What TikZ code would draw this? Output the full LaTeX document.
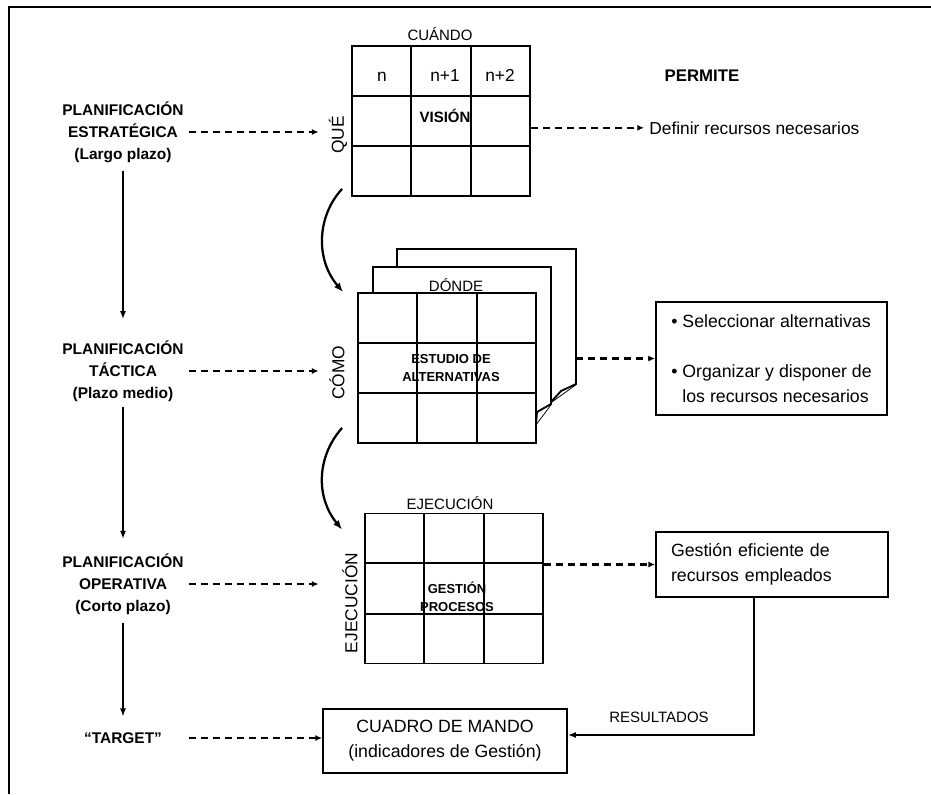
\documentclass[tikz,border=0pt]{standalone}
\usepackage{fontspec}
\setmainfont{Liberation Sans}
\usetikzlibrary{arrows.meta, calc}

% inner rules of a 3x3 planning matrix drawn as a node
\newcommand\cellrules[1]{%
  \foreach \k in {1,2}{%
    \draw ($(#1.north west)!\k/3!(#1.north east)$) -- ($(#1.south west)!\k/3!(#1.south east)$);
    \draw ($(#1.north west)!\k/3!(#1.south west)$) -- ($(#1.north east)!\k/3!(#1.south east)$);
  }}

\tikzset{
  every picture/.style={line width=1.4pt},
  lbl/.style={font=\bfseries\fontsize{11.6}{16.5}\selectfont, align=center},
  txt/.style={font=\fontsize{13}{15.6}\selectfont},
  head/.style={font=\fontsize{11.25}{13.5}\selectfont},
  cellnote/.style={font=\bfseries\fontsize{9.75}{13.5}\selectfont, align=center},
  axisname/.style={font=\fontsize{13}{15.6}\selectfont, rotate=90, inner sep=7pt},
  matrixbox/.style={draw, fill=white, minimum width=133.5pt, minimum height=112.5pt, inner sep=0pt},
  sheet/.style={draw, fill=white},
  textbox/.style={draw, fill=white, font=\fontsize{13.3}{18.75}\selectfont},
  dasharrow/.style={-{Latex[length=5pt,width=4.5pt]}, dash pattern=on 5pt off 4pt, line width=1.6pt},
  solidarrow/.style={-{Latex[length=6pt,width=4.5pt]}, line width=1.1pt},
  bendarrow/.style={-{Latex[length=7pt,width=5.5pt]}, line width=1.7pt},
}

\begin{document}
\begin{tikzpicture}[x=0.75pt, y=-0.75pt]
  \useasboundingbox (0,0) rectangle (931,794);
  \draw[line width=1.6pt] (9,794) -- (9,7) -- (931,7);

  % planning levels
  \node[lbl] (estr) at (123,132) {PLANIFICACIÓN\\ESTRATÉGICA\\(Largo plazo)};
  \node[lbl] (tact) at (123,371) {PLANIFICACIÓN\\TÁCTICA\\(Plazo medio)};
  \node[lbl] (oper) at (123,584) {PLANIFICACIÓN\\OPERATIVA\\(Corto plazo)};
  \node[lbl] (target) at (123,738) {“TARGET”};
  \draw[solidarrow, shorten <=2pt, shorten >=12pt] (estr) -- (tact);
  \draw[solidarrow, shorten >=7pt] (tact) -- (oper);
  \draw[solidarrow, shorten <=2pt, shorten >=8pt] (oper) -- (target);

  % strategic matrix
  \node[head, anchor=base] (cuando) at (440,40) {CUÁNDO};
  \node[matrixbox] (g1) at (441,121) {};
  \cellrules{g1}
  \node[txt, anchor=base] (n0) at (382,81) {n};
  \node[txt, anchor=base] (n1) at (445,81) {n+1};
  \node[txt, anchor=base] (n2) at (500,81) {n+2};
  \node[font=\bfseries\fontsize{11.25}{13.5}\selectfont, anchor=base] (vision) at (445,122.5) {VISIÓN};
  \node[axisname] (que) at (338,135) {QUÉ};
  \node[font=\bfseries\fontsize{12.6}{15}\selectfont, anchor=base] (permite) at (702,81) {PERMITE};
  \node[txt, anchor=base west] (definir) at (644,134) {Definir recursos necesarios};

  % tactical matrix with its stacked sheets
  \filldraw[sheet] (397,267) -- (397,249) -- (576,249) -- (576,384) -- (551,402);
  \draw[sheet] (576,384) -- (561,391) -- (551,402);
  \filldraw[sheet] (373,293) -- (373,267) -- (551,267) -- (551,404) -- (536,424);
  \draw[sheet] (551,404) -- (537,412) -- (536,424);
  \coordinate (stack) at (576,249);
  \node[head, anchor=base] (donde) at (456,291) {DÓNDE};
  \node[matrixbox] (g2) at (447,368) {};
  \cellrules{g2}
  \node[cellnote] (estudio) at (451,368) {ESTUDIO DE\\ALTERNATIVAS};
  \node[axisname] (como) at (337,373) {CÓMO};
  \node[textbox, align=left, minimum width=173.25pt, minimum height=84.75pt] (box1) at (771.5,358.5)
    {\textbullet\ Seleccionar alternativas\\[18.75pt]\textbullet\ Organizar y disponer de\\\hphantom{\textbullet\ }los recursos necesarios};

  % operative matrix
  \node[head, anchor=base] (ejectop) at (450,509) {EJECUCIÓN};
  \node[matrixbox] (g3) at (454,588.5) {};
  \cellrules{g3}
  \node[cellnote] (gestion) at (457,597) {GESTIÓN\\PROCESOS};
  \node[axisname] (ejec) at (350,603) {EJECUCIÓN};
  \node[textbox, align=left, text width=151.5pt, inner xsep=11.25pt, minimum height=48.75pt] (box2) at (772,564.5)
    {Gestión eficiente de\\recursos empleados};

  % control panel
  \node[textbox, align=center, minimum width=183pt, minimum height=48pt] (cuadro) at (445,741)
    {CUADRO DE MANDO\\(indicadores de Gestión)};
  \node[head, anchor=base] (result) at (659,722) {RESULTADOS};

  % dashed links
  \draw[dasharrow] (estr.east) -- (estr.east -| que.north);
  \draw[dasharrow] (tact.east) -- (tact.east -| que.north);
  \draw[dasharrow] (oper.east) -- (oper.east -| que.north);
  \draw[dasharrow] (target -| estr.east) -- (target -| cuadro.west);
  \draw[dasharrow] (definir.west -| g1.east) -- (definir.west);
  \draw[dasharrow] (box1.west -| stack) -- (box1.west);
  \draw[dasharrow] (box2.west -| g3.east) -- (box2.west);

  % flow between matrices
  \draw[bendarrow] ($(g1.south west)+(-9,-8)$) .. controls +(-25,27) and +(-28,-33) .. ($(g2.north west)+(-14,0)$);
  \draw[bendarrow] ($(g2.south west)+(-15,-16)$) .. controls +(-25,28) and +(-27,-33) .. ($(g3.north west)+(-22,17)$);
  \draw[solidarrow] ($(box2.south)+(-18,0)$) |- ($(cuadro.east)+(0,-6)$);
\end{tikzpicture}
\end{document}
